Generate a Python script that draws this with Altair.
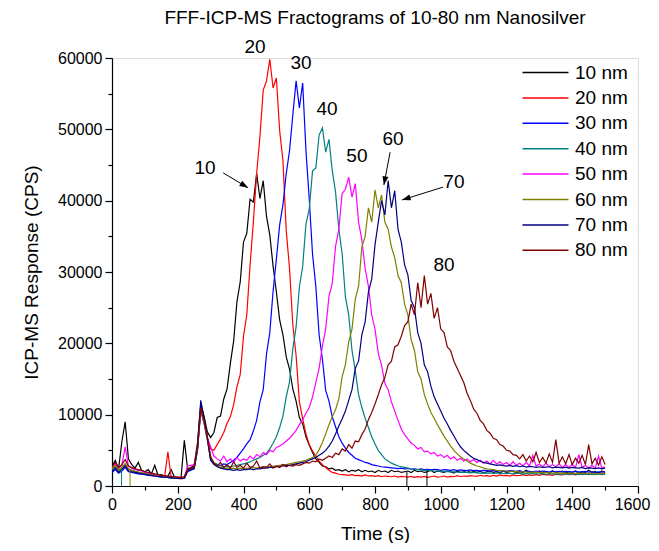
import math
import altair as alt
import pandas as pd

# ---------------- data ----------------
T = list(range(0, 1501, 10))
SERIES = ["10 nm", "20 nm", "30 nm", "40 nm", "50 nm", "60 nm", "70 nm", "80 nm"]
COLORS = ["#000000", "#FF0000", "#0000FF", "#008080", "#FF00FF", "#808000", "#000080", "#800000"]

S10 = [2800, 3600, 2400, 6200, 9000, 3800, 3000, 2500, 3300, 2200,
       2000, 2300, 1700, 2900, 1500, 1600, 1400, 1350, 2300, 1250,
       1200, 1150, 6400, 2400, 2600, 2900, 6000, 11500, 9800, 7600,
       6800, 7500, 9600, 9800, 12200, 13600, 17200, 20300, 25800, 28600,
       34200, 35400, 40200, 39800, 43800, 40300, 42800, 37800, 35200, 30800,
       27200, 23300, 21200, 18100, 16400, 13600, 11900, 9600, 8700, 6900,
       5700, 4700, 3800, 3300, 2800, 2700, 2400, 2500, 2200, 2300,
       2100, 2300, 2000, 2200, 2100, 2300, 2000, 2200, 2000, 2100,
       1900, 2200, 2000, 2100, 1900, 2200, 2000, 2100, 1900, 2000,
       2100, 1900, 2200, 2000, 2100, 1900, 2000, 2200, 1900, 2100,
       2000, 1900, 2100, 2000, 1800, 2100, 1900, 2000, 2200, 1900,
       2000, 1900, 2100, 1800, 2000, 2100, 1900, 2000, 1800, 2100,
       1900, 2000, 2100, 1800, 2000, 1900, 2200, 1900, 2000, 1800,
       2100, 1900, 2000, 1800, 2100, 1900, 2000, 2100, 1800, 2000,
       1900, 2100, 1800, 2000, 1900, 2200, 1900, 2000, 1800, 2100,
       1900]
S20 = [2300, 2900, 2000, 2600, 3100, 2400, 2200, 2000, 1900, 1800,
       1700, 1600, 1500, 1400, 1350, 1300, 1250, 4800, 1150, 1100,
       1050, 1000, 1100, 2200, 2400, 2600, 5200, 11000, 9200, 6800,
       5200, 5000, 5800, 6600, 7500, 8800, 9700, 11400, 13900, 15600,
       21000, 24000, 31000, 37000, 43800, 49000, 55500, 56800, 59800, 55800,
       57200, 49800, 45600, 35800, 30500, 22600, 18300, 11800, 9400, 7300,
       5800, 4900, 4200, 3500, 3000, 2600, 2200, 1900, 1800, 1650,
       1600, 1550, 1500, 1600, 1450, 1500, 1400, 1550, 1400, 1450,
       1350, 1450, 1300, 1400, 1350, 1300, 1400, 1250, 1350, 1300,
       1250, 1350, 1200, 1300, 1250, 1350, 1200, 1300, 1400, 1250,
       1300, 1400, 1250, 1350, 1300, 1450, 1300, 1400, 1350, 1450,
       1400, 1350, 1500, 1400, 1450, 1350, 1500, 1400, 1550, 1450,
       1500, 1400, 1550, 1450, 1500, 1600, 1450, 1550, 1500, 1600,
       1500, 1650, 1550, 1600, 1500, 1650, 1600, 1550, 1700, 1600,
       1650, 1550, 1700, 1600, 1650, 1750, 1600, 1700, 1650, 1750,
       1700]
S30 = [1900, 2300, 1800, 2100, 2600, 2000, 1900, 1800, 1700, 1650,
       1600, 1500, 1450, 1400, 1300, 1250, 1200, 1200, 1150, 1100,
       1050, 1050, 1100, 2000, 2200, 2400, 5000, 10500, 8800, 6500,
       3700, 3200, 3000, 2900, 3100, 3000, 3300, 3600, 4000, 4600,
       5200, 5900, 6500, 7700, 9200, 11800, 13500, 18500, 21500, 27300,
       31800, 36600, 39400, 43800, 47000, 52000, 56800, 53000, 56500, 47000,
       40200, 32500, 28000, 21200, 17800, 13400, 11900, 9700, 8300, 6900,
       6000, 5300, 4700, 4300, 3900, 3700, 3500, 3300, 3200, 3000,
       2900, 2800, 2700, 2650, 2600, 2550, 2500, 2450, 2500, 2400,
       2450, 2350, 2400, 2300, 2400, 2300, 2350, 2250, 2350, 2300,
       2200, 2300, 2250, 2200, 2300, 2150, 2250, 2200, 2150, 2250,
       2150, 2200, 2100, 2200, 2150, 2100, 2200, 2050, 2150, 2100,
       2050, 2150, 2100, 2050, 2150, 2000, 2100, 2050, 2000, 2100,
       2000, 2100, 2050, 1950, 2100, 2000, 2050, 1950, 2050, 2000,
       1950, 2050, 2000, 1950, 2050, 1950, 2000, 1900, 2000, 1950,
       2000]
S40 = [2200, 2700, 2100, 2400, 3000, 2300, 2200, 2000, 1900, 1850,
       1750, 1650, 1550, 1450, 1400, 1300, 1250, 1200, 1150, 1100,
       1100, 1050, 1100, 2100, 2300, 2500, 5100, 10800, 9000, 6600,
       4000, 3300, 3000, 2800, 2700, 2750, 2700, 2800, 2900, 3000,
       3100, 3200, 3400, 3600, 3800, 4000, 4300, 4600, 5200, 6000,
       6900, 8200, 9800, 12500, 14600, 19200, 22300, 27900, 30800, 36700,
       38800, 44200, 44600, 49200, 50200, 46800, 48600, 44200, 41200, 36000,
       32600, 26500, 24000, 19000, 16200, 12800, 11000, 9500, 8200, 6900,
       5900, 5000, 4400, 3800, 3500, 3200, 3000, 2800, 2700, 2600,
       2500, 2400, 2350, 2300, 2250, 2200, 2200, 2150, 2100, 2100,
       2050, 2000, 2050, 1950, 2000, 1950, 1900, 1950, 1900, 1850,
       1900, 1850, 1800, 1850, 1800, 1850, 1750, 1800, 1800, 1750,
       1800, 1750, 1700, 1800, 1750, 1700, 1750, 1700, 1750, 1650,
       1700, 1750, 1650, 1700, 1700, 1650, 1700, 1650, 1700, 1650,
       1650, 1700, 1600, 1650, 1700, 1600, 1650, 1600, 1650, 1600,
       1650]
S50 = [2600, 3200, 2500, 2900, 5500, 2800, 2500, 2300, 2200, 2100,
       1900, 1800, 1700, 1600, 1500, 1450, 1400, 1350, 1300, 1250,
       1200, 1200, 1300, 2800, 2900, 3000, 5300, 10800, 9000, 6800,
       5500, 4200, 3800, 3500, 4200, 3400, 3800, 3300, 4000, 3500,
       3800, 3600, 4200, 3800, 4400, 4100, 4700, 4400, 5000, 4800,
       5400, 5600, 5900, 6300, 6700, 7200, 7800, 8600, 9300, 10200,
       11000, 12500, 14500, 16500, 19600, 22000, 26600, 28400, 33600, 36000,
       41000, 41600, 43300, 40500, 42400, 37000, 34500, 30500, 28000, 24000,
       22000, 18600, 16900, 14400, 13500, 11800, 10500, 9200, 8000, 7200,
       6600, 6000, 5700, 5200, 5400, 4800, 4900, 4500, 4700, 4200,
       4400, 4000, 4300, 3800, 4100, 3600, 3900, 3500, 3800, 3400,
       3700, 3300, 3600, 3200, 3500, 3100, 3600, 3100, 3400, 3000,
       3300, 2900, 3400, 2900, 3200, 2800, 3300, 2800, 4300, 2800,
       3100, 2700, 3200, 2700, 3000, 2700, 3100, 2600, 3000, 2600,
       3000, 2600, 4400, 2600, 2900, 2500, 2900, 2500, 4200, 2500,
       2700]
S60 = [2400, 2900, 2200, 2600, 3100, 2300, 2200, 2050, 1950, 1850,
       1750, 1650, 1550, 1450, 1400, 1300, 1250, 1200, 1150, 1150,
       1100, 1100, 1150, 2200, 2400, 2600, 5200, 10600, 8900, 6500,
       4200, 3200, 2800, 2600, 2500, 2500, 2400, 2500, 2400, 2500,
       2400, 2500, 2500, 2600, 2500, 2600, 2600, 2700, 2700, 2800,
       2800, 2900, 3000, 3000, 3100, 3200, 3300, 3400, 3500, 3600,
       3800, 4000, 4300, 5100, 6100, 7300, 8600, 9700, 10700, 12200,
       15300, 17000, 20200, 22000, 26200, 28000, 33500, 35000, 39000, 37000,
       41500, 39000, 40800, 37000, 36000, 33500, 32000, 29500, 28500, 25500,
       24000, 20500, 19000, 16000, 15000, 12800, 11500, 10300, 9500, 8600,
       7800, 7000, 6300, 5600, 5000, 4500, 4100, 3800, 3500, 3200,
       3000, 2800, 2700, 2500, 2400, 2350, 2300, 2200, 2150, 2100,
       2100, 2050, 2000, 2050, 1950, 2000, 1950, 1900, 1950, 1900,
       1900, 1850, 1900, 1850, 1800, 1850, 1800, 1850, 1800, 1750,
       1800, 1750, 1800, 1750, 1750, 1800, 1700, 1750, 1700, 1750,
       1700]
S70 = [2000, 2500, 1900, 2300, 2800, 2100, 2000, 1900, 1800, 1700,
       1650, 1550, 1500, 1400, 1350, 1300, 1250, 1200, 1150, 1100,
       1050, 1050, 1100, 2100, 2300, 2500, 5500, 12000, 9500, 6800,
       3600, 3000, 2700, 2500, 2400, 2300, 2300, 2200, 2300, 2200,
       2300, 2300, 2400, 2300, 2400, 2400, 2500, 2500, 2600, 2600,
       2700, 2700, 2800, 2900, 2900, 3000, 3100, 3200, 3300, 3400,
       3600, 3800, 4000, 4300, 4600, 5000, 5600, 6300, 7300, 8400,
       9400, 10500, 12000, 13500, 16500, 17500, 21200, 23000, 27200, 29000,
       33800, 37000, 40000, 38000, 42800, 39000, 41400, 36000, 34200, 31000,
       29600, 26000, 25000, 21500, 20000, 17000, 16000, 14000, 12500, 11500,
       10500, 9500, 8700, 7800, 7000, 6200, 5500, 5000, 4600, 4200,
       3900, 3700, 3500, 3300, 3200, 3100, 3000, 2900, 2950, 2850,
       2800, 2900, 2750, 2850, 2700, 2800, 2650, 2750, 2700, 2600,
       2700, 2600, 2650, 2700, 2550, 2650, 2600, 2550, 2650, 2500,
       2600, 2550, 2500, 2600, 2450, 2550, 2500, 2450, 2550, 2400,
       2500]
S80 = [2700, 3300, 2600, 3000, 3700, 2800, 2600, 2400, 2300, 2200,
       2000, 1900, 1800, 1700, 1600, 1500, 1450, 1400, 1350, 1300,
       1250, 1200, 1300, 2300, 2500, 2700, 5300, 10900, 9200, 6900,
       4000, 3200, 2800, 3300, 2600, 3000, 2500, 3400, 2600, 2900,
       2500, 3200, 2600, 2800, 3500, 2500, 2700, 2600, 3100, 2500,
       2800, 2600, 3000, 2700, 2900, 2800, 3000, 2900, 3100, 3300,
       3200, 3500, 3400, 3800, 3600, 3900, 4200, 4000, 4600, 4400,
       5200, 4900, 5800, 5300, 6300, 6200, 7200, 8000, 9300, 10300,
       11500, 12800, 14200, 15200, 17000, 17500, 19500, 19800, 21000, 22500,
       23000, 25500, 24000, 28500, 25000, 29500, 25500, 27000, 23500, 25000,
       22000, 21500, 19500, 19000, 17500, 16500, 15500, 14500, 13000, 12000,
       10800, 10200, 9200, 8700, 7800, 7400, 6700, 6500, 5800, 5600,
       5000, 4900, 4400, 4300, 3800, 4400, 3500, 4200, 3400, 4700,
       3300, 4000, 3200, 4500, 3300, 6500, 3200, 4100, 3100, 4400,
       3000, 3900, 3200, 4300, 3000, 5800, 3100, 3900, 2900, 4100,
       3000]

# signal drop-outs (vertical spikes to zero)
DROP_T = [29, 55, 897, 958]
DROP_TOP = [2400, 2200, 2000, 2100]
DROP_SERIES = ["40 nm", "60 nm", "10 nm", "10 nm"]

# peak annotations
LABEL_TEXT = ["10", "20", "30", "40", "50", "60", "70", "80"]
LABEL_T = [283, 435, 575, 654, 745, 855, 1040, 1010]
LABEL_V = [44600, 61500, 59300, 52800, 46300, 48700, 42600, 31000]

# arrows (start -> end)
ARROW_T0 = [338, 846, 1007]
ARROW_V0 = [43900, 46800, 41900]
ARROW_T1 = [414, 827, 882]
ARROW_V1 = [41800, 42200, 40100]

TITLE = "FFF-ICP-MS Fractograms of 10-80 nm Nanosilver"
X_TITLE = "Time (s)"
Y_TITLE = "ICP-MS Response (CPS)"
X_MAJOR = list(range(0, 1601, 200))
X_MINOR = list(range(100, 1600, 200))
Y_MAJOR = list(range(0, 60001, 10000))
Y_MINOR = list(range(5000, 60000, 10000))

# ---------------- build tables ----------------
W, H = 526, 428
rows = []
for name, vals in zip(SERIES, [S10, S20, S30, S40, S50, S60, S70, S80]):
    assert len(vals) == len(T), (name, len(vals))
    for t, v in zip(T, vals):
        rows.append({"t": t, "v": v, "series": name})
df = pd.DataFrame(rows)

color_of = dict(zip(SERIES, COLORS))
drops = pd.DataFrame({"t": DROP_T, "v": [0] * len(DROP_T), "v2": DROP_TOP,
                      "col": [color_of[s] for s in DROP_SERIES]})
labels = pd.DataFrame({"t": LABEL_T, "v": LABEL_V, "txt": LABEL_TEXT})

angles = []
for t0, v0, t1, v1 in zip(ARROW_T0, ARROW_V0, ARROW_T1, ARROW_V1):
    dx = (t1 - t0) * W / 1600.0
    dy = -(v1 - v0) * H / 60000.0
    angles.append(math.degrees(math.atan2(dx, -dy)) % 360)
arrows = pd.DataFrame({"t": ARROW_T0, "v": ARROW_V0, "t2": ARROW_T1, "v2": ARROW_V1,
                       "ang": angles})
minor = pd.DataFrame({"t": X_MINOR[:len(Y_MINOR)], "v": Y_MINOR})

FONT = "Arial"
xscale = alt.Scale(domain=[0, 1600], nice=False, zero=False)
yscale = alt.Scale(domain=[0, 60000], nice=False)

x_axis = alt.Axis(values=X_MAJOR, title=X_TITLE, format="d", tickSize=7, tickWidth=1.2,
                  domainWidth=1.2, domainColor="black", tickColor="black",
                  labelColor="black", labelFontSize=16, labelFont=FONT, labelPadding=3,
                  labelOffset={"condition": {"test": "datum.value == 1600", "value": -6},
                               "value": 0},
                  titleFont=FONT, titleFontSize=19, titleFontWeight="normal",
                  titleColor="black", titlePadding=12, grid=False, labelFlush=False,
                  labelBound=False, orient="bottom")
y_axis = alt.Axis(values=Y_MAJOR, title=Y_TITLE, format="d", tickSize=7, tickWidth=1.2,
                  domainWidth=1.2, domainColor="black", tickColor="black",
                  labelColor="black", labelFontSize=16, labelFont=FONT, labelPadding=3,
                  titleFont=FONT, titleFontSize=19, titleFontWeight="normal",
                  titleColor="black", titlePadding=16, grid=False, orient="left")

lines = alt.Chart(df).mark_line(strokeWidth=1.2, clip=True).encode(
    x=alt.X("t:Q", scale=xscale, axis=x_axis),
    y=alt.Y("v:Q", scale=yscale, axis=y_axis),
    color=alt.Color("series:N", scale=alt.Scale(domain=SERIES, range=COLORS),
                    legend=alt.Legend(title=None, orient="none", legendX=421, legendY=2,
                                      symbolType="M-2,0H2", symbolSize=529,
                                      symbolStrokeWidth=1.5, labelFontSize=19,
                                      labelFont=FONT, labelColor="black",
                                      labelOffset=17, rowPadding=2.4, padding=0)),
)

drop_rules = alt.Chart(drops).mark_rule(strokeWidth=1).encode(
    x=alt.X("t:Q", axis=None), y=alt.Y("v:Q", axis=None), y2="v2:Q",
    color=alt.Color("col:N", scale=None))

minor_axes = alt.Chart(minor).mark_point(opacity=0).encode(
    x=alt.X("t:Q", scale=xscale,
            axis=alt.Axis(values=X_MINOR, labels=False, tickSize=4, tickWidth=1.2,
                          tickColor="black", domain=False, title=None, grid=False,
                          orient="bottom")),
    y=alt.Y("v:Q", scale=yscale,
            axis=alt.Axis(values=Y_MINOR, labels=False, tickSize=4, tickWidth=1.2,
                          tickColor="black", domain=False, title=None, grid=False,
                          orient="left")),
)

peak_text = alt.Chart(labels).mark_text(font=FONT, fontSize=19, color="black",
                                        align="center", baseline="middle").encode(
    x=alt.X("t:Q", axis=None), y=alt.Y("v:Q", axis=None), text="txt:N")

arrow_lines = alt.Chart(arrows).mark_rule(color="black", strokeWidth=1).encode(
    x=alt.X("t:Q", axis=None), y=alt.Y("v:Q", axis=None), x2="t2:Q", y2="v2:Q")
arrow_heads = alt.Chart(arrows).mark_point(shape="M0,0L-0.35,1L0.35,1Z", size=300,
                                           filled=True, color="black", opacity=1).encode(
    x=alt.X("t2:Q", axis=None), y=alt.Y("v2:Q", axis=None),
    angle=alt.Angle("ang:Q", scale=None))

chart = alt.layer(lines, drop_rules, minor_axes, peak_text, arrow_lines, arrow_heads).resolve_axis(
    x="independent", y="independent"
).properties(
    width=W, height=H,
    title=alt.TitleParams(TITLE, font=FONT, fontSize=19, fontWeight="normal",
                          color="black", anchor="middle", frame="group", offset=10),
    autosize=alt.AutoSizeParams(type="none"),
    padding={"left": 104, "top": 50, "right": 13, "bottom": 57},
).configure_view(stroke=None).configure(background="white")

chart.save("out.html", embed_options={"renderer": "svg", "actions": False})
